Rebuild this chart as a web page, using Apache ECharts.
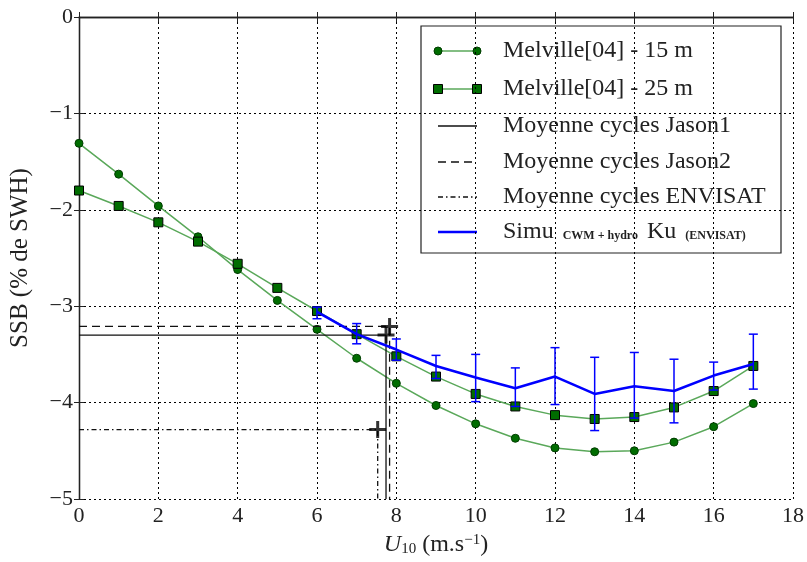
<!DOCTYPE html>
<html>
<head>
<meta charset="utf-8">
<script src="https://cdn.jsdelivr.net/npm/echarts@6/dist/echarts.min.js"></script>
<style>
  html, body { margin: 0; padding: 0; background: #fff; }
  #chart { width: 807px; height: 562px; }
</style>
</head>
<body>
<div id="chart"></div>
<script>
// Wind speed U10 (m/s) for the Melville curves
const windSpeed = [0, 1, 2, 3, 4, 5, 6, 7, 8, 9, 10, 11, 12, 13, 14, 15, 16, 17];
// Melville [04] SSB (% of SWH), 15 m and 25 m
const melville15 = [-1.31, -1.63, -1.96, -2.28, -2.62, -2.94, -3.24, -3.54, -3.80, -4.03, -4.22, -4.37, -4.47, -4.51, -4.50, -4.41, -4.25, -4.01];
const melville25 = [-1.80, -1.96, -2.13, -2.33, -2.56, -2.81, -3.05, -3.29, -3.52, -3.73, -3.91, -4.04, -4.13, -4.17, -4.15, -4.05, -3.88, -3.62];
// Simulation CWM + hydro, Ku band (ENVISAT): mean and spread
const simuWind = [6, 7, 8, 9, 10, 11, 12, 13, 14, 15, 16, 17];
const simuSSB  = [-3.06, -3.29, -3.45, -3.62, -3.74, -3.85, -3.73, -3.91, -3.83, -3.88, -3.72, -3.60];
const simuHigh = [-3.01, -3.18, -3.34, -3.51, -3.50, -3.64, -3.43, -3.53, -3.48, -3.55, -3.58, -3.29];
const simuLow  = [-3.13, -3.39, -3.56, -3.75, -3.99, -4.04, -4.02, -4.29, -4.16, -4.21, -3.87, -3.86];
// Cycle averages (mean wind, mean SSB) per mission
const jason1Mean  = [7.74, -3.30];
const jason2Mean  = [7.83, -3.21];
const envisatMean = [7.53, -4.28];
// Axis ranges and ticks
const xTicks = { min: 0, max: 18, step: 2 };
const yTicks = { min: -5, max: 0, step: 1 };

const FONT = '"Liberation Serif", "DejaVu Serif", serif';
const GREEN_LINE = '#5aa85a';
const GREEN_MARK = '#006d00';
const BLUE = '#0000ff';

const fmtNum = v => (v < 0 ? '\u2212' + Math.abs(v) : String(v));

// cross "+" marker
const PLUS = 'path://M7,0h3v17h-3z M0,7h17v3h-17z';

function meanPath(m) {
  return [[xTicks.min, m[1]], [m[0], m[1]], [m[0], yTicks.min]];
}

const chart = echarts.init(document.getElementById('chart'), null, { renderer: 'canvas' });

const axisCommon = {
  axisLine: { show: true, lineStyle: { color: '#222', width: 1.3 } },
  axisTick: { show: true, inside: true, length: 5, lineStyle: { color: '#222', width: 1 } },
};

const option = {
  backgroundColor: '#fff',
  animation: false,
  grid: { left: 79, right: 14, top: 17, bottom: 59, containLabel: false },
  xAxis: [
    Object.assign({
      type: 'value', position: 'bottom',
      min: xTicks.min, max: xTicks.max, interval: xTicks.step,
      axisLabel: { color: '#222', fontFamily: FONT, fontSize: 22, margin: 6, formatter: fmtNum },
      splitLine: { show: true, lineStyle: { color: '#000', width: 1, type: [2, 3] } },
      name: '{u|U}{sub|10}{t| (m.s}{sup|\u22121}{t|)}',
      nameLocation: 'middle', nameGap: 34,
      nameTextStyle: {
        rich: {
          u:   { fontFamily: FONT, fontSize: 24, fontStyle: 'italic', color: '#222', verticalAlign: 'bottom' },
          t:   { fontFamily: FONT, fontSize: 24, color: '#222', verticalAlign: 'bottom' },
          sub: { fontFamily: FONT, fontSize: 15, color: '#222', verticalAlign: 'bottom' },
          sup: { fontFamily: FONT, fontSize: 15, color: '#222', verticalAlign: 'top' }
        }
      }
    }, axisCommon),
    Object.assign({
      type: 'value', position: 'top',
      min: xTicks.min, max: xTicks.max, interval: xTicks.step,
      axisLabel: { show: false }, splitLine: { show: false }
    }, axisCommon)
  ],
  yAxis: [
    Object.assign({
      type: 'value', position: 'left',
      min: yTicks.min, max: yTicks.max, interval: yTicks.step,
      axisLabel: { color: '#222', fontFamily: FONT, fontSize: 22, margin: 6, formatter: fmtNum },
      splitLine: { show: true, lineStyle: { color: '#000', width: 1, type: [2, 3] } },
      name: 'SSB (% de SWH)',
      nameLocation: 'middle', nameGap: 46, nameRotate: 90,
      nameTextStyle: { fontFamily: FONT, fontSize: 25, color: '#222' }
    }, axisCommon),
    Object.assign({
      type: 'value', position: 'right',
      min: yTicks.min, max: yTicks.max, interval: yTicks.step,
      axisLabel: { show: false }, splitLine: { show: false }
    }, axisCommon)
  ],
  series: [
    {
      name: 'Melville[04] - 15 m', type: 'line',
      data: windSpeed.map((u, i) => [u, melville15[i]]),
      symbol: 'circle', symbolSize: 8,
      lineStyle: { color: GREEN_LINE, width: 1.5 },
      itemStyle: { color: GREEN_MARK, borderColor: '#003c00', borderWidth: 1 },
      z: 3
    },
    {
      name: 'Melville[04] - 25 m', type: 'line',
      data: windSpeed.map((u, i) => [u, melville25[i]]),
      symbol: 'rect', symbolSize: 9,
      lineStyle: { color: GREEN_LINE, width: 1.5 },
      itemStyle: { color: GREEN_MARK, borderColor: '#000', borderWidth: 1 },
      z: 3
    },
    {
      name: 'Moyenne cycles Jason1', type: 'line',
      data: meanPath(jason1Mean), symbol: 'none',
      lineStyle: { color: '#111', width: 1.3, type: 'solid' }, z: 4
    },
    {
      name: 'Moyenne cycles Jason2', type: 'line',
      data: meanPath(jason2Mean), symbol: 'none',
      lineStyle: { color: '#111', width: 1.3, type: [8, 5] }, z: 4
    },
    {
      name: 'Moyenne cycles ENVISAT', type: 'line',
      data: meanPath(envisatMean), symbol: 'none',
      lineStyle: { color: '#111', width: 1.3, type: [5, 3, 1.5, 3] }, z: 4
    },
    {
      name: 'means', type: 'scatter',
      data: [jason1Mean, jason2Mean, envisatMean],
      symbol: PLUS, symbolSize: 17,
      itemStyle: { color: '#000' }, z: 6
    },
    {
      name: 'Simu', type: 'line',
      data: simuWind.map((u, i) => [u, simuSSB[i]]),
      symbol: 'none',
      lineStyle: { color: BLUE, width: 2.6 }, z: 5
    },
    {
      name: 'Simu spread', type: 'custom',
      data: simuWind.map((u, i) => [u, simuLow[i], simuHigh[i]]),
      renderItem: function (params, api) {
        const u = api.value(0);
        const pLo = api.coord([u, api.value(1)]);
        const pHi = api.coord([u, api.value(2)]);
        const w = 4.5;
        const st = { stroke: BLUE, lineWidth: 1.5 };
        return {
          type: 'group',
          children: [
            { type: 'line', shape: { x1: pHi[0], y1: pHi[1], x2: pLo[0], y2: pLo[1] }, style: st },
            { type: 'line', shape: { x1: pHi[0] - w, y1: pHi[1], x2: pHi[0] + w, y2: pHi[1] }, style: st },
            { type: 'line', shape: { x1: pLo[0] - w, y1: pLo[1], x2: pLo[0] + w, y2: pLo[1] }, style: st }
          ]
        };
      },
      z: 5
    }
  ]
};

// Legend box drawn as graphic elements
const LX0 = 438, LX1 = 477, TX = 503;
const rowsY = [51, 89, 126, 162, 197, 232];
const labelStyle = { fontFamily: FONT, fontSize: 24, fill: '#222', textVerticalAlign: 'middle' };
const legendChildren = [
  { type: 'rect', shape: { x: 421, y: 26, width: 360, height: 227 },
    style: { fill: '#fff', stroke: '#222', lineWidth: 1.2 } }
];
function lineIcon(y, color, width, dash) {
  return { type: 'line', shape: { x1: LX0, y1: y, x2: LX1, y2: y },
           style: { stroke: color, lineWidth: width, lineDash: dash || null } };
}
function label(y, text) {
  return { type: 'text', x: TX, y: y, style: Object.assign({ text: text }, labelStyle) };
}
// 15 m
legendChildren.push(lineIcon(rowsY[0], GREEN_LINE, 1.5));
[LX0, LX1].forEach(x => legendChildren.push({ type: 'circle', shape: { cx: x, cy: rowsY[0], r: 4 },
  style: { fill: GREEN_MARK, stroke: '#003c00', lineWidth: 1 } }));
legendChildren.push(label(rowsY[0], 'Melville[04] - 15 m'));
// 25 m
legendChildren.push(lineIcon(rowsY[1], GREEN_LINE, 1.5));
[LX0, LX1].forEach(x => legendChildren.push({ type: 'rect', shape: { x: x - 4.5, y: rowsY[1] - 4.5, width: 9, height: 9 },
  style: { fill: GREEN_MARK, stroke: '#000', lineWidth: 1 } }));
legendChildren.push(label(rowsY[1], 'Melville[04] - 25 m'));
// means
legendChildren.push(lineIcon(rowsY[2], '#111', 1.3));
legendChildren.push(label(rowsY[2], 'Moyenne cycles Jason1'));
legendChildren.push(lineIcon(rowsY[3], '#111', 1.3, [8, 5]));
legendChildren.push(label(rowsY[3], 'Moyenne cycles Jason2'));
legendChildren.push(lineIcon(rowsY[4], '#111', 1.3, [5, 3, 1.5, 3]));
legendChildren.push(label(rowsY[4], 'Moyenne cycles ENVISAT'));
// simulation
legendChildren.push(lineIcon(rowsY[5], BLUE, 2.6));
legendChildren.push({
  type: 'text', x: TX, y: rowsY[5],
  style: {
    text: '{b|Simu }{s| CWM + hydro }{b| Ku }{s| (ENVISAT)}',
    textVerticalAlign: 'middle',
    rich: {
      b: { fontFamily: FONT, fontSize: 24, fill: '#222', verticalAlign: 'bottom' },
      s: { fontFamily: FONT, fontSize: 12, fontWeight: 'bold', fill: '#222', verticalAlign: 'bottom', padding: [0, 0, 2, 0] }
    }
  }
});
option.graphic = [{ type: 'group', children: legendChildren, z: 100 }];

chart.setOption(option);
</script>
</body>
</html>
